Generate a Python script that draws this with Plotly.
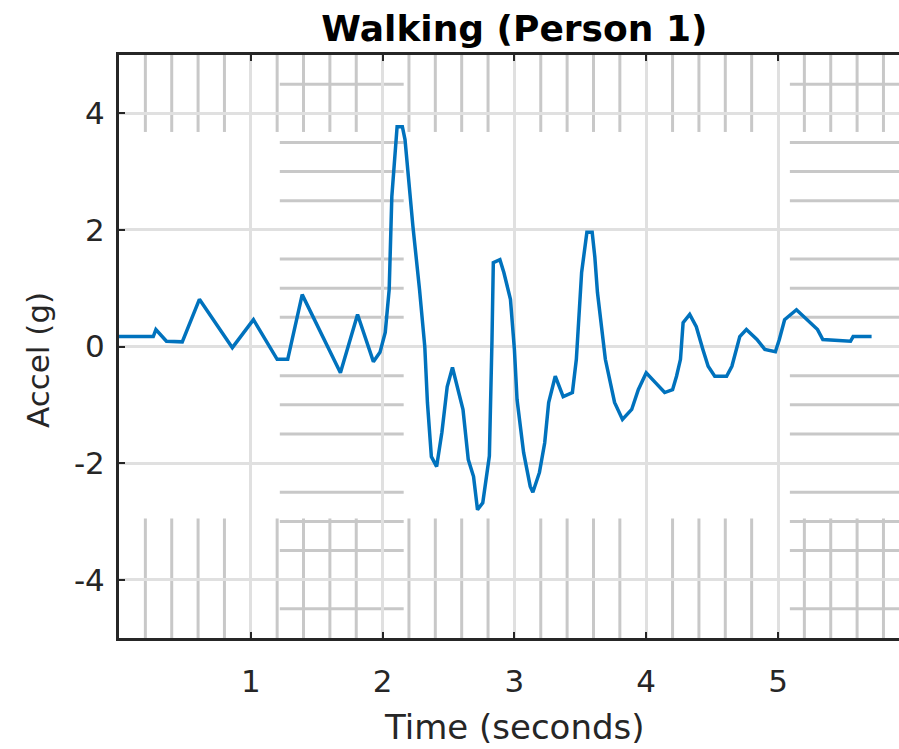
import plotly.graph_objects as go
import numpy as np

# ---- data ----
t = [0.00, 0.26, 0.28, 0.36, 0.48, 0.61, 0.86, 1.02, 1.20, 1.28, 1.39, 1.68, 1.81, 1.93,
     1.98, 2.02, 2.05, 2.07, 2.11, 2.15, 2.17, 2.19, 2.23, 2.28, 2.32, 2.34, 2.37, 2.41,
     2.45, 2.49, 2.53, 2.61, 2.65, 2.69, 2.72, 2.76, 2.81, 2.83, 2.84, 2.89, 2.92, 2.97,
     3.00, 3.02, 3.07, 3.12, 3.14, 3.19, 3.23, 3.26, 3.31, 3.37, 3.44, 3.47, 3.51, 3.55,
     3.59, 3.61, 3.63, 3.69, 3.72, 3.76, 3.82, 3.89, 3.94, 4.00, 4.07, 4.14, 4.20, 4.23,
     4.26, 4.28, 4.33, 4.38, 4.43, 4.47, 4.52, 4.61, 4.65, 4.68, 4.71, 4.76, 4.84, 4.90,
     4.98, 5.01, 5.05, 5.14, 5.22, 5.30, 5.34, 5.55, 5.57, 5.71]
signal = [0.17, 0.17, 0.29, 0.09, 0.08, 0.81, -0.02, 0.46, -0.22, -0.22, 0.89, -0.45, 0.55, -0.26,
          -0.10, 0.24, 0.98, 2.57, 3.77, 3.77, 3.55, 3.04, 2.06, 0.98, 0.00, -0.96, -1.89, -2.06,
          -1.47, -0.69, -0.36, -1.08, -1.94, -2.23, -2.80, -2.68, -1.88, 0.12, 1.44, 1.49, 1.27, 0.81,
          -0.05, -0.91, -1.82, -2.40, -2.50, -2.16, -1.65, -0.96, -0.51, -0.86, -0.79, -0.22, 1.27, 1.96,
          1.96, 1.54, 0.93, -0.22, -0.57, -0.96, -1.25, -1.08, -0.74, -0.45, -0.62, -0.79, -0.74, -0.51,
          -0.22, 0.41, 0.55, 0.34, -0.05, -0.34, -0.51, -0.51, -0.34, -0.10, 0.17, 0.29, 0.12, -0.05,
          -0.09, 0.12, 0.46, 0.63, 0.46, 0.29, 0.12, 0.09, 0.17, 0.17]

x_ticks = [1, 2, 3, 4, 5]
x_tick_text = ["1", "2", "3", "4", "5"]
y_ticks = [-4, -2, 0, 2, 4]
y_tick_text = ["-4", "-2", "0", "2", "4"]

title_text = "Walking (Person 1)"
x_label = "Time (seconds)"
y_label = "Accel (g)"

X_MAX = 5.918
Y_MIN, Y_MAX = -5, 5

FONT = "DejaVu Sans"
INK = "#262626"
MINOR = "#c8c8c8"

fig = go.Figure()
fig.add_trace(go.Scatter(x=t, y=signal, mode="lines",
                         line=dict(color="#0072BD", width=3.5), showlegend=False))

# partial minor grid (as seen in the reference)
shapes = []
minor_x = [round(v, 2) for v in np.arange(0.2, X_MAX, 0.2) if abs(v - round(v)) > 1e-6]
minor_y = [v for v in np.arange(-4.5, 5.0, 0.5) if abs(v / 2 - round(v / 2)) > 1e-6]
v_bands = [(3.68, Y_MAX), (Y_MIN, -2.95)]
h_bands = [(1.22, 2.16), (5.09, X_MAX)]
for xv in minor_x:
    for (a, b) in v_bands:
        shapes.append(dict(type="line", x0=xv, x1=xv, y0=a, y1=b, xref="x", yref="y",
                           line=dict(color=MINOR, width=3), layer="below"))
for yv in minor_y:
    for (a, b) in h_bands:
        shapes.append(dict(type="line", x0=a, x1=b, y0=yv, y1=yv, xref="x", yref="y",
                           line=dict(color=MINOR, width=3), layer="below"))

fig.update_layout(
    width=899, height=749,
    margin=dict(l=119, r=0, t=55, b=111),
    paper_bgcolor="white", plot_bgcolor="white",
    shapes=shapes,
    title=dict(text=title_text, x=(3 / X_MAX) * (780 / 899) + 119 / 899, xref="container",
               xanchor="center", y=1 - 28 / 749, yref="container", yanchor="middle",
               font=dict(family=FONT, size=36, color="black", weight="bold")),
    xaxis=dict(range=[0, X_MAX], tickvals=x_ticks, ticktext=x_tick_text,
               showgrid=True, gridcolor="#e0e0e0", gridwidth=3,
               showline=True, linecolor=INK, linewidth=3, mirror="ticks",
               ticks="inside", ticklen=6, tickwidth=2, tickcolor=INK,
               ticklabelstandoff=14,
               tickfont=dict(family=FONT, size=31, color=INK), zeroline=False),
    yaxis=dict(range=[Y_MIN, Y_MAX], tickvals=y_ticks, ticktext=y_tick_text,
               showgrid=True, gridcolor="#e0e0e0", gridwidth=3,
               showline=True, linecolor=INK, linewidth=3, mirror=False,
               ticks="inside", ticklen=6, tickwidth=2, tickcolor=INK,
               ticklabelstandoff=5,
               tickfont=dict(family=FONT, size=31, color=INK), zeroline=False),
    annotations=[
        dict(text=x_label, x=3, xref="x", y=(638 - 727) / 583, yref="paper",
             xanchor="center", yanchor="middle", showarrow=False,
             font=dict(family=FONT, size=34, color=INK)),
        dict(text=y_label, x=(38 - 119) / 780, xref="paper", y=(638 - 360) / 583, yref="paper",
             xanchor="center", yanchor="middle", textangle=-90, showarrow=False,
             font=dict(family=FONT, size=31, color=INK)),
    ],
)

fig.write_html("out.html")
